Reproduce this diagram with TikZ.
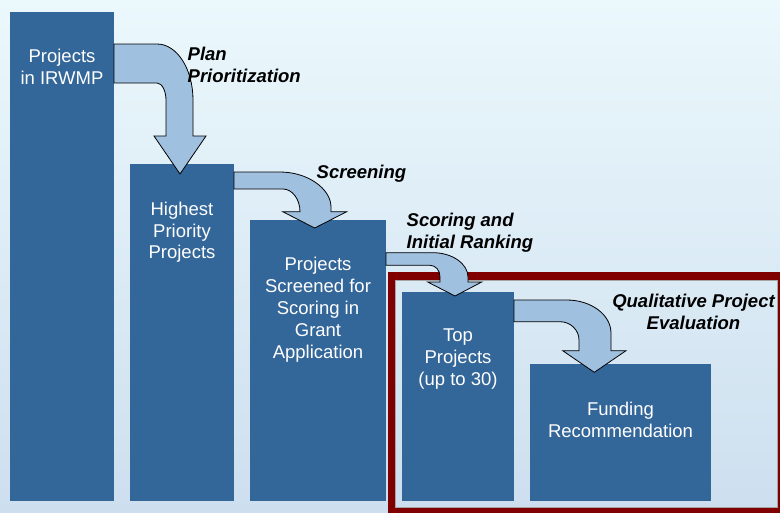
\documentclass[tikz,border=0pt]{standalone}
\usepackage{fontspec}
\setmainfont{Liberation Sans}
\definecolor{bgtop}{HTML}{EBF8FC}
\definecolor{bgbot}{HTML}{CDDFEF}
\definecolor{boxblue}{HTML}{336699}
\definecolor{arrowblue}{HTML}{A0C0E0}
\definecolor{framered}{HTML}{800000}
\begin{document}
\begin{tikzpicture}[x=1pt,y=-1pt,
  box/.style={fill=boxblue, draw=none, inner sep=0pt, outer sep=0pt},
  boxtext/.style={text=white, inner sep=0pt, anchor=north, align=center,
    font=\fontsize{18.5}{21.8}\selectfont},
  steplabel/.style={text=black, inner sep=0pt, anchor=north west, align=left,
    font=\fontsize{18.5}{22}\selectfont\bfseries\itshape},
  blockarrow/.style={fill=arrowblue, draw=black, line width=0.8pt, line join=miter}]
\useasboundingbox (0,0) rectangle (780,512);
\clip (0,0) rectangle (780,512);
% background
\fill[top color=bgtop, bottom color=bgbot] (0,0) rectangle (780,512);
% boxes
\node[box, minimum width=104pt, minimum height=489pt] (b1) at (62,256.5) {};
\node[box, minimum width=104pt, minimum height=337pt] (b2) at (182,332.5) {};
\node[box, minimum width=136pt, minimum height=281pt] (b3) at (318,360.5) {};
\node[box, minimum width=112pt, minimum height=209pt] (b4) at (458,396.5) {};
\node[box, minimum width=181pt, minimum height=137pt] (b5) at (620.5,432.5) {};
% red frame
\draw[framered, line width=7.5pt] (391.25,275.75) rectangle (781.5,511.75);
\draw[gray!70, line width=0.8pt] (395.5,280) rectangle (777.2,507.6);
% block arrows
\path[blockarrow] (114,44) -- (157,44) .. controls (177,44) and (193,69) .. (193,100)
  -- (193,136) -- (206,136) -- (180,174) -- (154,136) -- (166,136) -- (166,100)
  .. controls (166,91) and (162,83) .. (157,83) -- (114,83) -- cycle;
\path[blockarrow] (234,172) -- (280,172) .. controls (308,172) and (331,189) .. (331,207)
  -- (331,211.7) -- (346.7,211.7) -- (314.7,228) -- (282.7,211.7) -- (300,211.7)
  .. controls (300,199) and (292,189) .. (283,189) -- (234,189) -- cycle;
\path[blockarrow] (386,252.7) -- (433,252.7) .. controls (452.3,252.7) and (468,263.8) .. (468,277)
  -- (468,282) -- (481.7,282) -- (455,296) -- (427.7,282) -- (440,282) -- (440,276.7)
  .. controls (440,270.2) and (435.5,265.3) .. (430,265.3) -- (386,265.3) -- cycle;
\path[blockarrow] (514,300) -- (566.7,300) .. controls (591.2,300) and (611,314.8) .. (611,333)
  -- (611,350.7) -- (626,350.7) -- (594.3,372.3) -- (562.7,350.7) -- (579,350.7) -- (579,340)
  .. controls (579,330) and (570.5,321.7) .. (560,321.7) -- (514,321.7) -- cycle;
% box texts
\node[boxtext] (t1) at (62,48.2) {\rule{0pt}{14pt}Projects\\in IRWMP};
\node[boxtext] (t2) at (182,201) {\rule{0pt}{14pt}Highest\\Priority\\Projects};
\node[boxtext] (t3) at (318,256.6) {\rule{0pt}{14pt}Projects\\Screened for\\Scoring in\\Grant\\Application};
\node[boxtext] (t4) at (458,327.6) {\rule{0pt}{14pt}Top\\Projects\\(up to 30)};
\node[boxtext] (t5) at (620.5,401) {\rule{0pt}{14pt}Funding\\Recommendation};
% step labels
\node[steplabel] (l1) at (187.5,46) {\rule{0pt}{14pt}Plan\\Prioritization};
\node[steplabel] (l2) at (316.5,164.3) {\rule{0pt}{14pt}Screening};
\node[steplabel] (l3) at (406.5,212.6) {\rule{0pt}{14pt}Scoring and\\Initial Ranking};
\node[steplabel, anchor=north, align=center] (l4) at (693.5,293.6) {\rule{0pt}{14pt}Qualitative Project\\Evaluation};
\end{tikzpicture}
\end{document}
